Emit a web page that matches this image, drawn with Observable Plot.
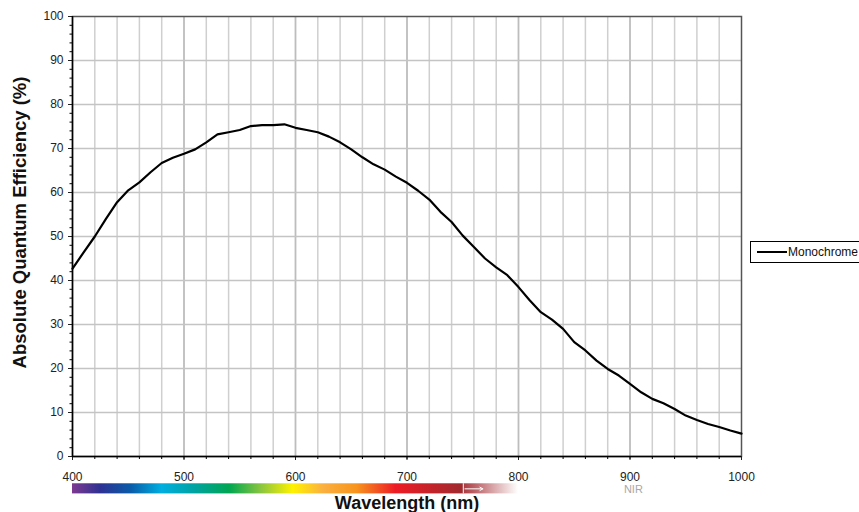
<!DOCTYPE html>
<html>
<head>
<meta charset="utf-8">
<script src="https://cdn.jsdelivr.net/npm/d3@7"></script>
<script src="https://cdn.jsdelivr.net/npm/@observablehq/plot@0.6"></script>
<style>
  html, body { margin: 0; padding: 0; background: #fff; }
  #chart { position: relative; width: 859px; height: 512px; }
  svg { font-family: "Liberation Sans", Arial, sans-serif; }
</style>
</head>
<body>
<div id="chart"></div>
<script>
// Wavelength (nm)
const wavelengths = [400,410,420,430,440,450,460,470,480,490,500,510,520,530,540,550,560,570,580,590,600,610,620,630,640,650,660,670,680,690,700,710,720,730,740,750,760,770,780,790,800,810,820,830,840,850,860,870,880,890,900,910,920,930,940,950,960,970,980,990,1000];
// Absolute quantum efficiency (%) - Monochrome
const efficiency = [42.7,46.4,50.0,54.0,57.8,60.5,62.3,64.6,66.7,67.9,68.8,69.8,71.4,73.2,73.7,74.2,75.1,75.3,75.3,75.5,74.7,74.2,73.7,72.7,71.4,69.8,68.0,66.4,65.2,63.6,62.2,60.4,58.4,55.6,53.3,50.2,47.6,45.0,43.0,41.2,38.5,35.5,32.8,31.1,29.0,26.0,24.1,21.8,19.9,18.4,16.5,14.6,13.1,12.1,10.8,9.3,8.3,7.4,6.7,5.9,5.2];
const seriesName = "Monochrome";
const xTickLabels = [400,500,600,700,800,900,1000];
const yTickLabels = [0,10,20,30,40,50,60,70,80,90,100];
// Spectrum colour bar stops (nm, colour)
const spectrumNm =     [400,      425,      452,      480,      510,      541,      570,      598,      625,      655,      690,      750,      751,      800];
const spectrumColors = ["#7d3a90","#2e3192","#0a5aa8","#00aee0","#00a3a0","#00a651","#8dc63f","#fff200","#fbb040","#f7941d","#ed1c24","#9e2a2f","#aa3a40","#ffffff"];

const data = wavelengths.map((w, i) => ({w, v: efficiency[i]}));

const plot = Plot.plot({
  width: 859,
  height: 512,
  marginLeft: 72,
  marginRight: 118,
  marginTop: 16,
  marginBottom: 56,
  style: {fontFamily: "Liberation Sans, Arial, sans-serif", fontSize: "12px", color: "#222", background: "#fff"},
  x: {domain: [400, 1000], label: null},
  y: {domain: [0, 100], label: null},
  marks: [
    // grid
    Plot.ruleX(d3.range(420, 1000, 20).filter(d => d % 100 !== 0), {stroke: "#cfcfcf", strokeWidth: 1.5}),
    Plot.ruleX([500, 600, 700, 800, 900], {stroke: "#bdbdbd", strokeWidth: 1.8}),
    Plot.ruleY(d3.range(10, 100, 10), {stroke: "#c4c4c4", strokeWidth: 1.5}),
    Plot.frame({stroke: "#555", strokeWidth: 1.5}),
    // axes
    Plot.axisY({ticks: d3.range(0, 101, 2), tickSize: 2.5, text: null, stroke: "#000"}),
    Plot.axisY({ticks: yTickLabels, tickSize: 4, tickPadding: 5, fontSize: 12, fill: "#222"}),
    Plot.axisX({ticks: d3.range(400, 1001, 20), tickSize: 3, text: null, stroke: "#000"}),
    Plot.axisX({ticks: xTickLabels, tickSize: 4, tickPadding: 12, fontSize: 12, fill: "#222", tickFormat: d => String(d)}),
    Plot.ruleX([400], {stroke: "#000", strokeWidth: 1.5}),
    Plot.ruleY([0], {stroke: "#000", strokeWidth: 1.5}),
    // curve
    Plot.line(data, {x: "w", y: "v", stroke: "#000", strokeWidth: 2.2}),
    // spectrum bar
    Plot.rect([{a: spectrumNm[0], b: spectrumNm[spectrumNm.length - 1]}], {x1: "a", x2: "b", y1: -6.2, y2: -8.5, fill: "url(#spectrum)"}),
    Plot.ruleX([750.5], {y1: -6.2, y2: -8.5, stroke: "#fff", strokeWidth: 1}),
    Plot.arrow([{a: 752, b: 768}], {x1: "a", x2: "b", y1: -7.35, y2: -7.35, stroke: "#fff", strokeWidth: 1, headLength: 5}),
    Plot.text(["NIR"], {x: 903, y: -7.6, fill: "#a8a8a8", fontSize: 11}),
    // axis labels
    Plot.text(["Wavelength (nm)"], {frameAnchor: "bottom", dy: 52, fontSize: 18, fontWeight: "bold", fill: "#111"}),
    Plot.text(["Absolute Quantum Efficiency (%)"], {frameAnchor: "left", textAnchor: "middle", dx: -52, dy: -14, rotate: -90, fontSize: 18.5, fontWeight: "bold", fill: "#111"})
  ]
});

const svg = d3.select(plot);
const grad = svg.insert("defs", ":first-child").append("linearGradient")
  .attr("id", "spectrum").attr("x1", "0%").attr("x2", "100%").attr("y1", "0%").attr("y2", "0%");
spectrumNm.forEach((nm, i) => {
  grad.append("stop")
    .attr("offset", ((nm - spectrumNm[0]) / (spectrumNm[spectrumNm.length - 1] - spectrumNm[0]) * 100) + "%")
    .attr("stop-color", spectrumColors[i]);
});

// legend
const lg = svg.append("g");
lg.append("rect").attr("x", 750.5).attr("y", 241.5).attr("width", 120).attr("height", 21)
  .attr("fill", "#fff").attr("stroke", "#000").attr("stroke-width", 1);
lg.append("line").attr("x1", 757).attr("x2", 787).attr("y1", 252).attr("y2", 252)
  .attr("stroke", "#000").attr("stroke-width", 2);
lg.append("text").attr("x", 788).attr("y", 256).attr("font-size", 12).attr("fill", "#111")
  .attr("text-anchor", "start")
  .text(seriesName);

document.getElementById("chart").appendChild(plot);
</script>
</body>
</html>
